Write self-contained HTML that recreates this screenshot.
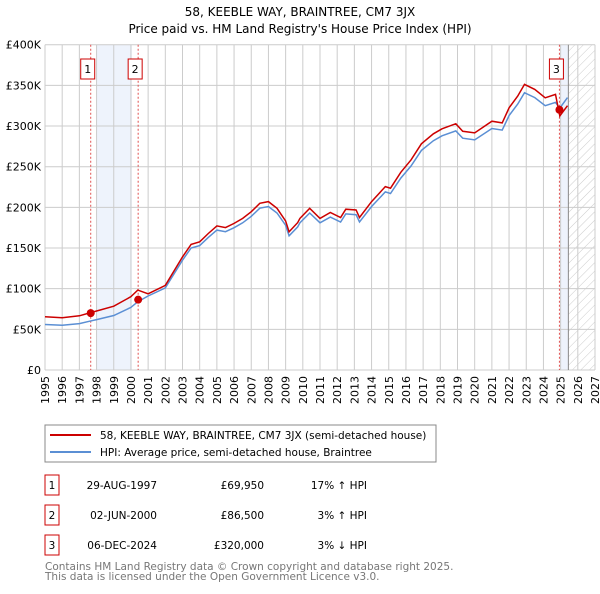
<!DOCTYPE html>
<html><head><meta charset="utf-8"><style>
body{margin:0;background:#fff;font-family:"DejaVu Sans","Liberation Sans",sans-serif;}
svg text{font-family:"DejaVu Sans","Liberation Sans",sans-serif;}
</style></head><body>
<svg id="c" width="600" height="590" xmlns="http://www.w3.org/2000/svg">
<defs><pattern id="hatch" width="6" height="6" patternUnits="userSpaceOnUse" patternTransform="rotate(45)"><line x1="0" y1="0" x2="0" y2="6" stroke="#ccc" stroke-width="1"/></pattern></defs>
<text x="300" y="16" text-anchor="middle" font-size="12">58, KEEBLE WAY, BRAINTREE, CM7 3JX</text>
<text x="300" y="33" text-anchor="middle" font-size="12">Price paid vs. HM Land Registry's House Price Index (HPI)</text>
<g id="grid"></g><g id="marks"></g><g id="axes"></g>
<rect x="45" y="425" width="391" height="37" fill="#fff" stroke="#888"/>
<line x1="50" y1="435" x2="91" y2="435" stroke="#cc0000" stroke-width="2"/>
<text x="100" y="439" font-size="10.5">58, KEEBLE WAY, BRAINTREE, CM7 3JX (semi-detached house)</text>
<line x1="50" y1="452" x2="91" y2="452" stroke="#5b8fd4" stroke-width="2"/>
<text x="100" y="456" font-size="10.5">HPI: Average price, semi-detached house, Braintree</text>
<g font-size="10.5" id="table"></g>
<text x="45" y="570" font-size="10.5" fill="#777">Contains HM Land Registry data © Crown copyright and database right 2025.</text>
<text x="45" y="580" font-size="10.5" fill="#777">This data is licensed under the Open Government Licence v3.0.</text>
</svg>
<script>
const hpiYears=[1995,1996,1997,1997.6,1998,1999,2000,2000.4,2001,2002,2003,2003.5,2004,2004.5,2005,2005.5,2006,2006.5,2007,2007.5,2008,2008.5,2009,2009.2,2009.7,2009.83,2010.4,2011,2011.6,2012.2,2012.5,2013.1,2013.3,2014,2014.8,2015.1,2015.7,2016.3,2016.9,2017.6,2018.1,2018.9,2019.3,2020,2021,2021.6,2022,2022.5,2022.9,2023.5,2024.1,2024.7,2024.95,2025.4];
const hpiValues=[56,55,57,60,62,67,77,84,91,101,135,150,153,163,172,170,175,181,189,199,201,193,178,165,176,181,193,181,188,182,192,191,182,201,219,217,236,251,270,282,288,294,285,283,297,295,313,327,341,335,325,329,322,335];
const saleYears=[1997.66,2000.42,2024.93];
const salePrices=[69.95,86.5,320];
const saleRatios=[1.17,1.03,0.97];
const saleLabels=["1","2","3"];
const saleDates=["29-AUG-1997","02-JUN-2000","06-DEC-2024"];
const salePriceText=["£69,950","£86,500","£320,000"];
const saleHpiText=["17% ↑ HPI","3% ↑ HPI","3% ↓ HPI"];
const yTicks=[0,50,100,150,200,250,300,350,400];
const yTickLabels=["£0","£50K","£100K","£150K","£200K","£250K","£300K","£350K","£400K"];
const xTicks=[1995,1996,1997,1998,1999,2000,2001,2002,2003,2004,2005,2006,2007,2008,2009,2010,2011,2012,2013,2014,2015,2016,2017,2018,2019,2020,2021,2022,2023,2024,2025,2026,2027];
const L=45,R=595,T=44.7,B=370;
const X=y=>L+(y-1995)*(R-L)/32;
const Y=v=>B-v*(B-T)/400;
const NS="http://www.w3.org/2000/svg";
function mk(p,tag,at){const e=document.createElementNS(NS,tag);for(const k in at)e.setAttribute(k,at[k]);p.appendChild(e);return e;}
const grid=document.getElementById('grid'),marks=document.getElementById('marks'),axes=document.getElementById('axes'),table=document.getElementById('table');
let e;
e=mk(grid,'rect',{x:X(1998),y:T,width:X(2000.05)-X(1998),height:B-T,fill:'#eef3fc'});


e=mk(grid,'rect',{x:X(2024.96),y:T,width:X(2025.45)-X(2024.96),height:B-T,fill:'#eef3fc'});


e=mk(grid,'rect',{x:X(2025.45),y:T,width:R-X(2025.45),height:B-T,fill:'url(#hatch)'});


xTicks.forEach(t=>{
 e=mk(grid,'line',{x1:X(t),x2:X(t),y1:T,y2:B,stroke:'#ccc','stroke-width':1});
 
 
 e=mk(axes,'text',{transform:`translate(${X(t)+4},${B+6}) rotate(-90)`,'text-anchor':'end','font-size':11});
 e.textContent=t;
 
 
});
yTicks.forEach((t,i)=>{
 e=mk(grid,'line',{x1:L,x2:R,y1:Y(t),y2:Y(t),stroke:'#ccc','stroke-width':1});
 
 
 e=mk(axes,'text',{x:L-4,y:Y(t)+4,'text-anchor':'end','font-size':11});
 e.textContent=yTickLabels[i];
 
 
});
e=mk(grid,'line',{x1:X(2025.45),x2:X(2025.45),y1:T,y2:B,stroke:'#888','stroke-width':1});


saleYears.forEach((s,i)=>{
 e=mk(marks,'line',{x1:X(s),x2:X(s),y1:T,y2:B,stroke:'#e05050','stroke-width':1,'stroke-dasharray':'2,2'});
 
 
 e=mk(marks,'rect',{x:X(s)-10,y:59,width:14,height:20,fill:'#fff',stroke:'#cc0000'});
 
 
 e=mk(marks,'text',{x:X(s)-3,y:73,'text-anchor':'middle','font-size':11});
 e.textContent=saleLabels[i];
 
 
});
const hpiPts=hpiYears.map((y,i)=>X(y).toFixed(1)+','+Y(hpiValues[i]).toFixed(1)).join(' ');
e=mk(marks,'polyline',{points:hpiPts,fill:'none',stroke:'#5b8fd4','stroke-width':1.5});


function ratio(y){return y<saleYears[1]?saleRatios[0]:(y<saleYears[2]?saleRatios[1]:saleRatios[2]);}
const redPts=hpiYears.map((y,i)=>X(y).toFixed(1)+','+Y(hpiValues[i]*ratio(y)).toFixed(1)).join(' ');
e=mk(marks,'polyline',{points:redPts,fill:'none',stroke:'#cc0000','stroke-width':1.5});


saleYears.forEach((s,i)=>{
 e=mk(marks,'circle',{cx:X(s),cy:Y(salePrices[i]),r:4,fill:'#cc0000'});
 
 
});
saleYears.forEach((s,i)=>{
 const yy=475+i*30;
 e=mk(table,'rect',{x:45,y:yy,width:14,height:20,fill:'#fff',stroke:'#cc0000'});
 
 
 e=mk(table,'text',{x:52,y:yy+14,'text-anchor':'middle'});
 e.textContent=saleLabels[i];
 
 
 e=mk(table,'text',{x:157,y:yy+14,'text-anchor':'end'});
 e.textContent=saleDates[i];
 
 
 e=mk(table,'text',{x:264,y:yy+14,'text-anchor':'end'});
 e.textContent=salePriceText[i];
 
 
 e=mk(table,'text',{x:367,y:yy+14,'text-anchor':'end'});
 e.textContent=saleHpiText[i];
 
 
});
</script>
</body></html>
